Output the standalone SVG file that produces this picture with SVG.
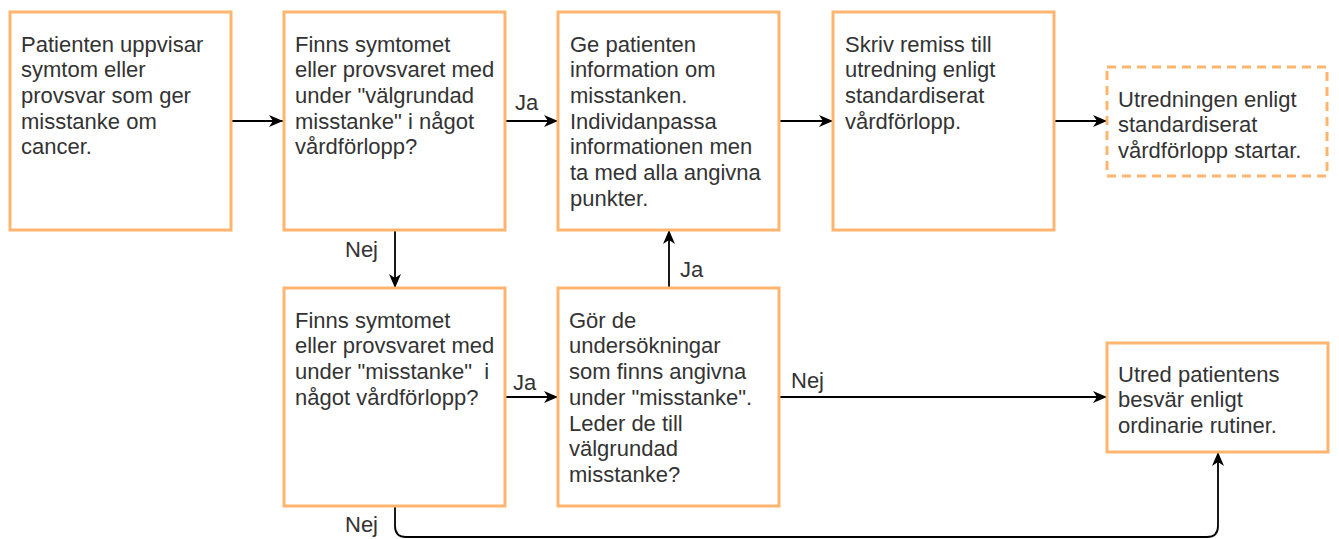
<svg xmlns="http://www.w3.org/2000/svg" width="1339" height="539" viewBox="0 0 1339 539">
<style>
.box{fill:#fff;stroke:#FFB570;stroke-width:3}
.dash{fill:#fff;stroke:#FFB570;stroke-width:3;stroke-dasharray:9 6}
.t{font-family:"Liberation Sans",Arial,Helvetica,sans-serif;font-size:22px;fill:#333}
.lbl{font-family:"Liberation Sans",Arial,Helvetica,sans-serif;font-size:22px;fill:#333}
.edge{fill:none;stroke:#000;stroke-width:1.8}
</style>
<defs>
<marker id="arr" markerUnits="userSpaceOnUse" markerWidth="16" markerHeight="14" refX="14" refY="7" orient="auto">
<path d="M0,1 L14,7 L0,13 L4,7 z" fill="#000"/>
</marker>
</defs>
<rect width="1339" height="539" fill="#fff"/>
<g id="connectors">
<path class="edge" d="M231,121 L283,121" marker-end="url(#arr)"/>
<path class="edge" d="M505,121 L558,121" marker-end="url(#arr)"/>
<path class="edge" d="M779,121 L833,121" marker-end="url(#arr)"/>
<path class="edge" d="M1054,121 L1107,121" marker-end="url(#arr)"/>
<path class="edge" d="M395,230 L395,288" marker-end="url(#arr)"/>
<path class="edge" d="M505,397 L558,397" marker-end="url(#arr)"/>
<path class="edge" d="M669,288 L669,230" marker-end="url(#arr)"/>
<path class="edge" d="M780,397 L1107,397" marker-end="url(#arr)"/>
<path class="edge" d="M395,506 L395,526 Q395,537 406,537 L1207,537 Q1218,537 1218,526 L1218,452" marker-end="url(#arr)"/>
<text class="lbl" x="515" y="110">Ja</text>
<text class="lbl" x="345" y="257">Nej</text>
<text class="lbl" x="513" y="390">Ja</text>
<text class="lbl" x="680" y="277">Ja</text>
<text class="lbl" x="791" y="388">Nej</text>
<text class="lbl" x="345" y="532">Nej</text>
</g>
<g id="n1">
<rect class="box" x="10" y="12" width="221" height="218"/>
<text class="t"><tspan x="21" y="51.5">Patienten uppvisar</tspan><tspan x="21" y="77.2">symtom eller</tspan><tspan x="21" y="102.9">provsvar som ger</tspan><tspan x="21" y="128.6">misstanke om</tspan><tspan x="21" y="154.3">cancer.</tspan></text>
</g>
<g id="n2">
<rect class="box" x="284" y="12" width="221" height="218"/>
<text class="t"><tspan x="295" y="51.5">Finns symtomet</tspan><tspan x="295" y="77.2">eller provsvaret med</tspan><tspan x="295" y="102.9">under "välgrundad</tspan><tspan x="295" y="128.6">misstanke" i något</tspan><tspan x="295" y="154.3">vårdförlopp?</tspan></text>
</g>
<g id="n3">
<rect class="box" x="558" y="12" width="221" height="218"/>
<text class="t"><tspan x="570" y="51.5">Ge patienten</tspan><tspan x="570" y="77.2">information om</tspan><tspan x="570" y="102.9">misstanken.</tspan><tspan x="570" y="128.6">Individanpassa</tspan><tspan x="570" y="154.3">informationen men</tspan><tspan x="570" y="180">ta med alla angivna</tspan><tspan x="570" y="205.7">punkter.</tspan></text>
</g>
<g id="n4">
<rect class="box" x="833" y="12" width="221" height="218"/>
<text class="t"><tspan x="845" y="51.5">Skriv remiss till</tspan><tspan x="845" y="77.2">utredning enligt</tspan><tspan x="845" y="102.9">standardiserat</tspan><tspan x="845" y="128.6">vårdförlopp.</tspan></text>
</g>
<g id="n5">
<rect class="dash" x="1107" y="67" width="220" height="109"/>
<text class="t"><tspan x="1118" y="106.5">Utredningen enligt</tspan><tspan x="1118" y="132.2">standardiserat</tspan><tspan x="1118" y="157.9">vårdförlopp startar.</tspan></text>
</g>
<g id="n6">
<rect class="box" x="284" y="288" width="221" height="218"/>
<text class="t"><tspan x="295" y="327.7">Finns symtomet</tspan><tspan x="295" y="353.4">eller provsvaret med</tspan><tspan x="295" y="379.1">under "misstanke"&#160; i</tspan><tspan x="295" y="404.8">något vårdförlopp?</tspan></text>
</g>
<g id="n7">
<rect class="box" x="558" y="288" width="221" height="218"/>
<text class="t"><tspan x="569" y="327.7">Gör de</tspan><tspan x="569" y="353.4">undersökningar</tspan><tspan x="569" y="379.1">som finns angivna</tspan><tspan x="569" y="404.8">under "misstanke".</tspan><tspan x="569" y="430.5">Leder de till</tspan><tspan x="569" y="456.2">välgrundad</tspan><tspan x="569" y="481.9">misstanke?</tspan></text>
</g>
<g id="n8">
<rect class="box" x="1107" y="343" width="221" height="109"/>
<text class="t"><tspan x="1118" y="381.5">Utred patientens</tspan><tspan x="1118" y="407.2">besvär enligt</tspan><tspan x="1118" y="432.9">ordinarie rutiner.</tspan></text>
</g>
</svg>
